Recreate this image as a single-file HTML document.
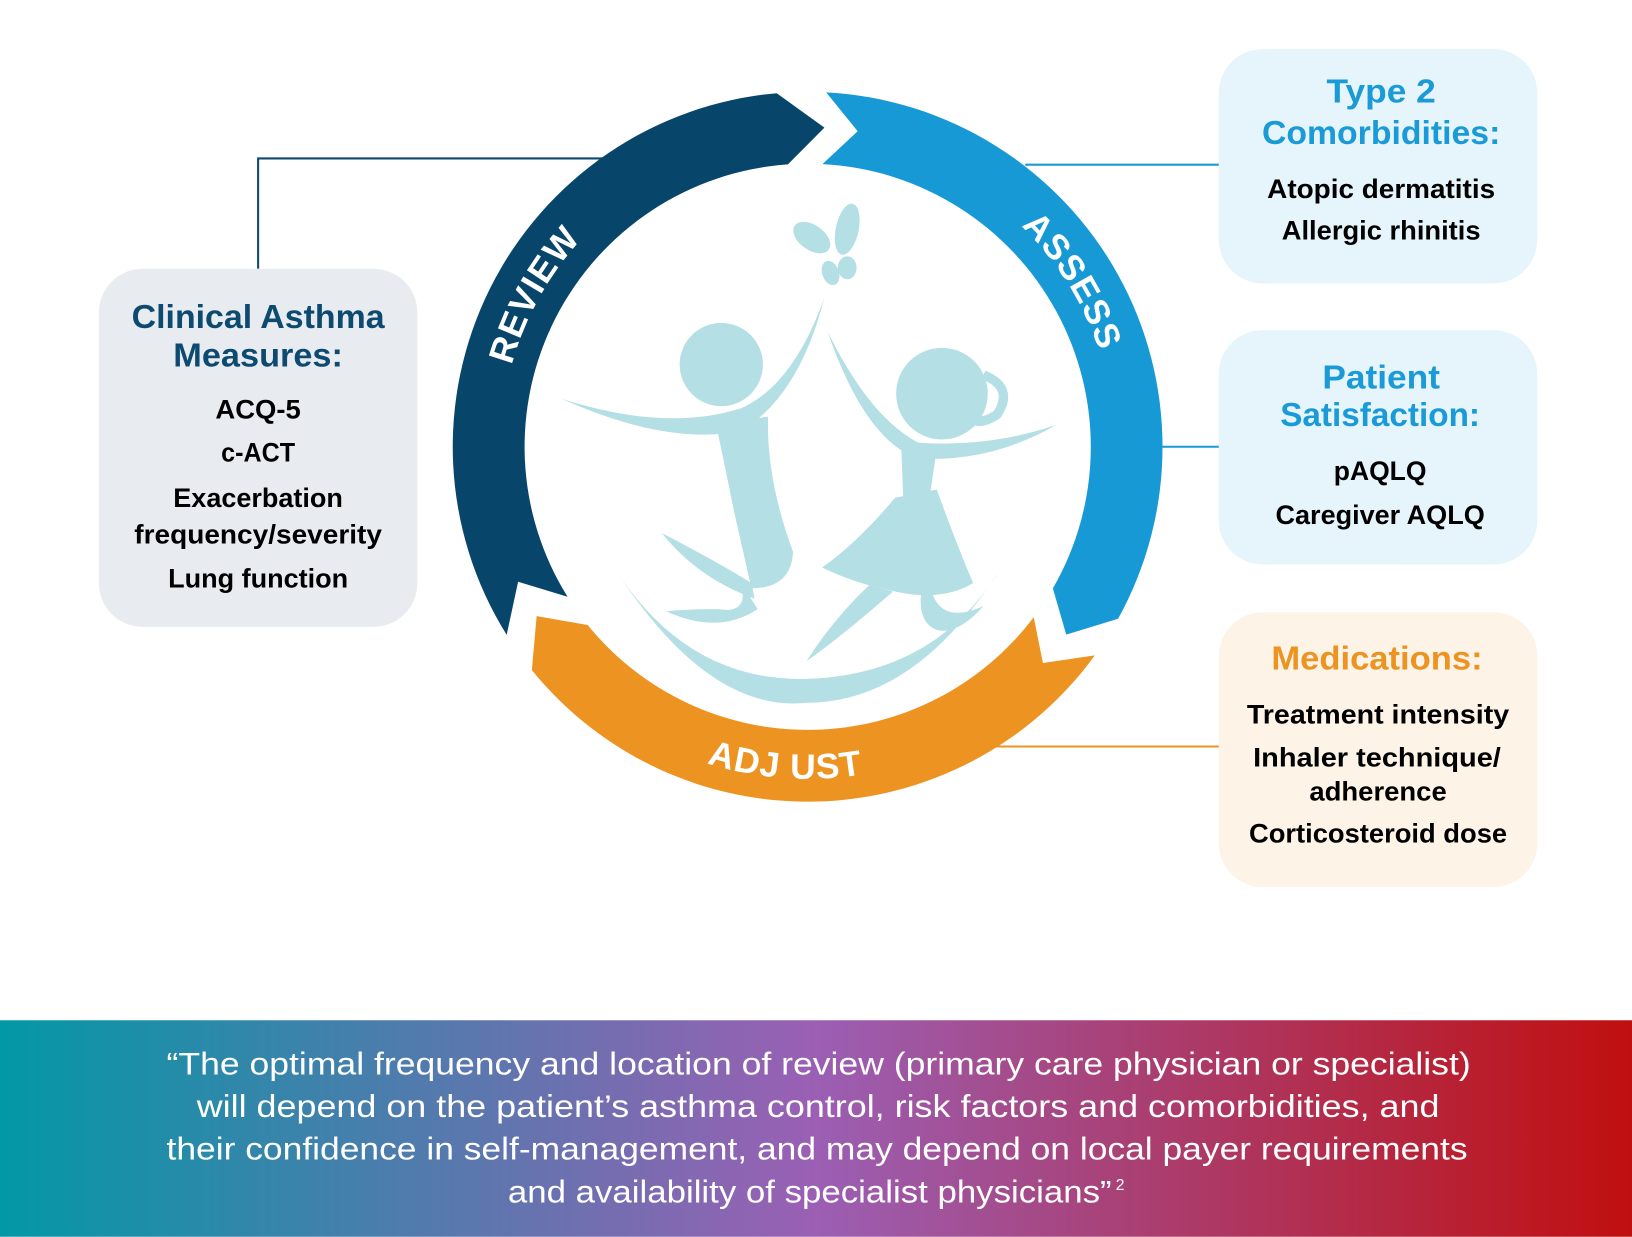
<!DOCTYPE html>
<html><head><meta charset="utf-8"><style>
html,body{margin:0;padding:0;background:#fff;}
svg{display:block;}
text{font-family:"Liberation Sans",sans-serif;}
</style></head><body>
<svg id="s" width="1632" height="1237" viewBox="0 0 1568 1188" xmlns="http://www.w3.org/2000/svg">
<defs>
<linearGradient id="g" x1="0" y1="0" x2="1" y2="0">
<stop offset="0" stop-color="#0398a6"/>
<stop offset="0.5" stop-color="#9b5fb4"/>
<stop offset="1" stop-color="#c00f0f"/>
</linearGradient>
<path id="pRev" d=""/>
<path id="pAss" d=""/>
<path id="pAdj" d=""/>
</defs>
<rect width="1568" height="1188" fill="#fff"/>

<!-- connectors -->
<polyline points="248,258 248,152 590,152" fill="none" stroke="#0d4a70" stroke-width="2"/>
<line x1="985" y1="158" x2="1172" y2="158" stroke="#1a9ad6" stroke-width="2"/>
<line x1="1110" y1="429" x2="1172" y2="429" stroke="#1a9ad6" stroke-width="2"/>
<line x1="950" y1="717" x2="1172" y2="717" stroke="#ec9322" stroke-width="2"/>

<!-- ring -->
<path id="segRev" fill="#08456b"/>
<path id="segAss" fill="#1799d6"/>
<path id="segAdj" fill="#ec9322"/>
<text font-weight="bold" font-size="34" fill="#fff" letter-spacing="1"><textPath href="#pRev" startOffset="50%" text-anchor="middle">REVIEW</textPath></text>
<text font-weight="bold" font-size="34" fill="#fff" letter-spacing="1"><textPath href="#pAss" startOffset="50%" text-anchor="middle">ASSESS</textPath></text>
<text font-weight="bold" font-size="34" fill="#fff" letter-spacing="1"><textPath href="#pAdj" startOffset="50%" text-anchor="middle">ADJ UST</textPath></text>

<!-- kids -->
<g fill="#b3dfe5" stroke="none">
<ellipse cx="814" cy="220" rx="11" ry="25" transform="rotate(12 814 220)"/>
<ellipse cx="780" cy="228" rx="20" ry="12" transform="rotate(35 780 228)"/>
<ellipse cx="814" cy="257" rx="9" ry="11"/>
<ellipse cx="798" cy="262" rx="8" ry="12" transform="rotate(-20 798 262)"/>
<circle cx="693" cy="350" r="40"/>
<circle cx="905" cy="378" r="44"/>
<path d="M540,383 Q640,428 712,414 Q768,380 792,286 Q762,370 712,392 Q640,415 540,383Z"/>
<path d="M688,408 L738,400 Q736,460 762,530 Q760,565 722,565 L705,490 Q695,440 688,408Z"/>
<path d="M722,560 Q690,540 636,512 Q670,555 725,575Z"/>
<path d="M712,560 Q720,590 690,585 Q660,585 640,587 Q690,610 728,585Z"/>
<path d="M795,318 Q830,420 880,440 Q950,445 1015,408 Q950,430 882,425 Q835,400 795,318Z"/>
<path d="M866,430 L900,432 L892,485 L868,485Z"/>
<path d="M860,478 L900,470 Q918,520 935,560 Q905,578 860,568 Q820,560 790,545 Q825,520 860,478Z"/>
<path d="M835,562 L858,568 Q810,610 775,635 Q800,595 835,562Z"/>
<path d="M895,568 Q905,600 945,582 Q920,610 900,605 Q882,598 885,570Z"/>
<path d="M590,545 Q680,685 775,675 Q880,675 962,545 Q900,648 775,652 Q660,655 590,545Z"/>
</g>
<path d="M945,360 Q975,372 958,398 Q940,410 930,400" fill="none" stroke="#b3dfe5" stroke-width="9"/>

<!-- boxes -->
<rect x="95" y="258" width="306" height="344" rx="42" fill="#e8ecf0"/>
<rect x="1171" y="47" width="306" height="225" rx="42" fill="#e6f4fb"/>
<rect x="1171" y="317" width="306" height="225" rx="42" fill="#e6f4fb"/>
<rect x="1171" y="588" width="306" height="264" rx="42" fill="#fdf3e7"/>

<g font-weight="bold" text-anchor="middle">
<g font-size="32" fill="#0d4a70">
<text x="248" y="315" textLength="243" lengthAdjust="spacingAndGlyphs">Clinical Asthma</text>
<text x="248" y="352" textLength="163" lengthAdjust="spacingAndGlyphs">Measures:</text>
</g>
<g font-size="26" fill="#000">
<text x="248" y="402" textLength="82" lengthAdjust="spacingAndGlyphs">ACQ-5</text>
<text x="248" y="443" textLength="71" lengthAdjust="spacingAndGlyphs">c-ACT</text>
<text x="248" y="487" textLength="163" lengthAdjust="spacingAndGlyphs">Exacerbation</text>
<text x="248" y="522" textLength="238" lengthAdjust="spacingAndGlyphs">frequency/severity</text>
<text x="248" y="564" textLength="173" lengthAdjust="spacingAndGlyphs">Lung function</text>
</g>
<g font-size="32" fill="#1a9ad6">
<text x="1327" y="98" textLength="105" lengthAdjust="spacingAndGlyphs">Type 2</text>
<text x="1327" y="138" textLength="229" lengthAdjust="spacingAndGlyphs">Comorbidities:</text>
<text x="1327" y="373" textLength="113" lengthAdjust="spacingAndGlyphs">Patient</text>
<text x="1326" y="409" textLength="192" lengthAdjust="spacingAndGlyphs">Satisfaction:</text>
</g>
<text x="1323" y="643" font-size="32" fill="#ec9322" textLength="203" lengthAdjust="spacingAndGlyphs">Medications:</text>
<g font-size="26" fill="#000">
<text x="1327" y="190" textLength="219" lengthAdjust="spacingAndGlyphs">Atopic dermatitis</text>
<text x="1327" y="230" textLength="191" lengthAdjust="spacingAndGlyphs">Allergic rhinitis</text>
<text x="1326" y="461" textLength="89" lengthAdjust="spacingAndGlyphs">pAQLQ</text>
<text x="1326" y="503" textLength="201" lengthAdjust="spacingAndGlyphs">Caregiver AQLQ</text>
<text x="1324" y="695" textLength="252" lengthAdjust="spacingAndGlyphs">Treatment intensity</text>
<text x="1323" y="736" textLength="238" lengthAdjust="spacingAndGlyphs">Inhaler technique/</text>
<text x="1324" y="769" textLength="132" lengthAdjust="spacingAndGlyphs">adherence</text>
<text x="1324" y="809" textLength="248" lengthAdjust="spacingAndGlyphs">Corticosteroid dose</text>
</g>
</g>

<!-- quote band -->
<rect x="0" y="980" width="1568" height="208" fill="url(#g)"/>
<g font-size="30" fill="#fff">
<text x="160" y="1032" textLength="1253" lengthAdjust="spacingAndGlyphs">“The optimal frequency and location of review (primary care physician or specialist)</text>
<text x="189" y="1073" textLength="1194" lengthAdjust="spacingAndGlyphs">will depend on the patient’s asthma control, risk factors and comorbidities, and</text>
<text x="160" y="1114" textLength="1250" lengthAdjust="spacingAndGlyphs">their confidence in self-management, and may depend on local payer requirements</text>
<text x="488" y="1155" textLength="580" lengthAdjust="spacingAndGlyphs">and availability of specialist physicians”</text>
<text x="1072" y="1143" font-size="15">2</text>
</g>
</svg>
<script>
(function(){
var cx=776,cy=429,ro=341,ri=272,rm=307;
function P(r,a){a=a*Math.PI/180;return (cx+r*Math.cos(a)).toFixed(1)+","+(cy+r*Math.sin(a)).toFixed(1);}
function seg(a0o,a0i,a0m,a1o,a1i,a1m){
 return "M"+P(ro,a0o)+" A"+ro+","+ro+" 0 0 1 "+P(ro,a1o)+" L"+P(rm,a1m)+" L"+P(ri,a1i)+
 " A"+ri+","+ri+" 0 0 0 "+P(ri,a0i)+" L"+P(rm,a0m)+" Z";}
document.getElementById("segRev").setAttribute("d",seg(148,148,155,265,266,273));
document.getElementById("segAss").setAttribute("d",seg(273,273,279,389,390,396));
document.getElementById("segAdj").setAttribute("d",seg(396,397,402.6,501,501,508));
function arc(r,a0,a1,sw){return "M"+P(r,a0)+" A"+r+","+r+" 0 0 "+sw+" "+P(r,a1);}
document.getElementById("pRev").setAttribute("d",arc(295,159,259,1));
document.getElementById("pAss").setAttribute("d",arc(295,278,378,1));
document.getElementById("pAdj").setAttribute("d",arc(319,140,48,0));
})();
</script>
</body></html>
